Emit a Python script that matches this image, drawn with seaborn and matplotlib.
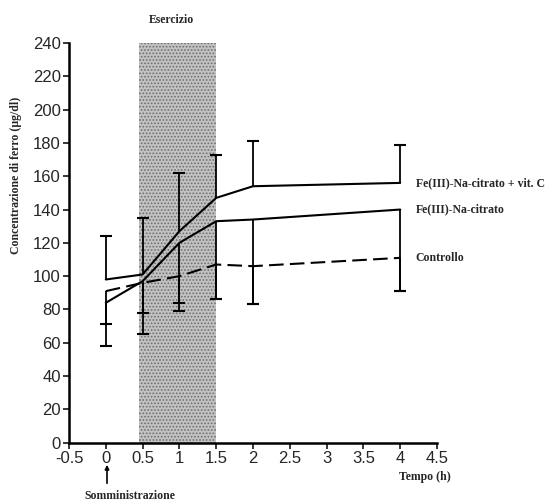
import pandas as pd
import matplotlib
matplotlib.use("Agg")
import matplotlib.pyplot as plt
import seaborn as sns

# data
tempo = [0, 0.5, 1, 1.5, 2, 4]
vitc = [98, 101, 127, 147, 154, 156]
vitc_upper = [124, 135, 162, 173, 181, 179]
fe = [84, 97, 120, 133, 134, 140]
fe_lower = [58, 65, 79, 86, 83, 91]
controllo = [91, 96, 100, 107, 106, 111]
controllo_lower = [71, 78, 84, 86, 83, 91]

serie = ["Fe(III)-Na-citrato + vit. C", "Fe(III)-Na-citrato", "Controllo"]
y_ticks = list(range(0, 241, 20))
x_ticks = [-0.5, 0, 0.5, 1, 1.5, 2, 2.5, 3, 3.5, 4, 4.5]

df = pd.DataFrame({
    "tempo": tempo * 3,
    "conc": vitc + fe + controllo,
    "serie": [serie[0]] * 6 + [serie[1]] * 6 + [serie[2]] * 6,
})

sns.set_style("white")
plt.rcParams['font.family'] = ['Liberation Sans', 'DejaVu Sans']
plt.rcParams['hatch.linewidth'] = 0.8

W, H = 559, 501
fig = plt.figure(figsize=(W / 100, H / 100), dpi=100)
ax = fig.add_axes([69 / W, 1 - 442.7 / H, (437 - 69) / W, (442.7 - 43) / H])

# exercise period (stippled band)
ax.axvspan(0.45, 1.5, facecolor='#c2c2c2', edgecolor='#6e6e6e', hatch='.....', linewidth=0, zorder=0)

sns.lineplot(data=df, x="tempo", y="conc", style="serie", ax=ax, color="black", linewidth=1.5,
             dashes={serie[0]: "", serie[1]: "", serie[2]: (7, 3)}, legend=False, zorder=3)

# one-sided error bars: stem plus a cap only at the far end
for y, end in [(vitc, vitc_upper), (fe, fe_lower), (controllo, controllo_lower)]:
    ax.vlines(tempo, y, end, color='black', linewidth=1.3, zorder=4)
    ax.scatter(tempo, end, marker='_', s=70, color='black', linewidths=1.5, zorder=4)

ax.set_xlim(-0.5, 4.5)
ax.set_ylim(0, 240)
ax.set_xticks(x_ticks)
ax.set_xticklabels([f"{t:g}" for t in x_ticks])
ax.set_yticks(y_ticks)
ax.set_xlabel("")
ax.set_ylabel("")
ax.tick_params(axis='both', labelsize=12, length=4, width=1.3, direction='out', pad=2,
               bottom=True, left=True)
for s in ['top', 'right']:
    ax.spines[s].set_visible(False)
for s in ['left', 'bottom']:
    ax.spines[s].set_linewidth(1.8)
    ax.spines[s].set_color('black')

lab = dict(family=['Liberation Serif', 'DejaVu Serif'], fontweight='bold', fontsize=8.5)

# series labels at the end of the lines
for nome, val in zip(serie, [vitc[-1], fe[-1], controllo[-1]]):
    ax.text(4.21, val, nome, ha='left', va='center', clip_on=False, **lab)

fig.text(171 / W, 1 - 20 / H, "Esercizio", ha='center', va='center', **lab)
fig.text(425 / W, 1 - 477 / H, "Tempo (h)", ha='center', va='center', **lab)
fig.text(130 / W, 1 - 496 / H, "Somministrazione", ha='center', va='center', **lab)
fig.text(16 / W, 1 - 175 / H, "Concentrazione di ferro (µg/dl)", rotation=90,
         ha='center', va='center', **lab)
ax.annotate("", xy=(107 / W, 1 - 462 / H), xytext=(107 / W, 1 - 486 / H),
            xycoords='figure fraction', textcoords='figure fraction',
            arrowprops=dict(arrowstyle='-|>', color='black', lw=1.2, mutation_scale=6))

fig.savefig("out.png", dpi=100)
